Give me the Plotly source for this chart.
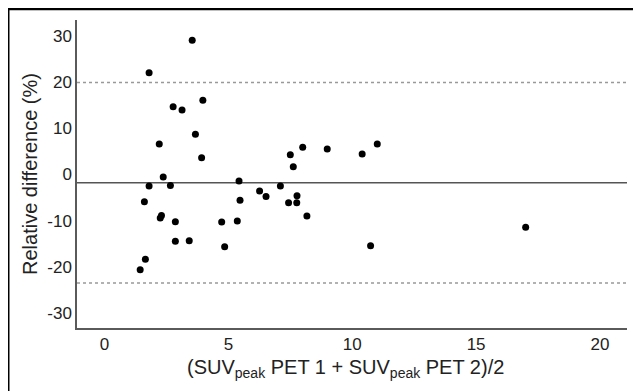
import plotly.graph_objects as go

# Bland-Altman data: mean SUVpeak (x) vs relative difference % (y)
mean_suv = [1.80, 3.54, 2.77, 3.13, 3.97, 2.21, 3.67, 3.92, 2.37, 1.80,
            2.66, 5.43, 6.26, 6.52, 7.10, 7.50, 7.62, 8.00, 7.77, 5.47,
            8.99, 10.40, 11.01, 1.61, 2.25, 2.30, 2.86, 2.86, 3.42, 1.65,
            1.44, 4.73, 5.36, 4.85, 7.43, 7.76, 8.17, 10.74, 17.00]
rel_diff = [22.05, 29.07, 14.66, 13.97, 16.09, 6.61, 8.71, 3.62, -0.54, -2.49,
            -2.38, -1.41, -3.57, -4.76, -2.49, 4.27, 1.69, 5.89, -4.59, -5.59,
            5.52, 4.44, 6.61, -5.91, -9.42, -8.88, -10.24, -14.45, -14.36, -18.37,
            -20.64, -10.29, -10.07, -15.64, -6.13, -6.11, -8.99, -15.42, -11.44]

bias = -1.8
upper_loa = 19.9
lower_loa = -23.5

x_ticks = [0, 5, 10, 15, 20]
x_tick_labels = ["0", "5", "10", "15", "20"]
y_ticks = [-30, -20, -10, 0, 10, 20, 30]
y_tick_labels = ["-30", "-20", "-10", "0", "10", "20", "30"]
x_title = "(SUV<sub>peak</sub> PET 1 + SUV<sub>peak</sub> PET 2)/2"
y_title = "Relative difference (%)"

font_family = "Liberation Sans, Arial, sans-serif"

fig = go.Figure()
fig.add_trace(go.Scatter(
    x=mean_suv, y=rel_diff, mode="markers",
    marker=dict(color="black", size=7),
    showlegend=False, hoverinfo="x+y"))

# bias and limits of agreement
fig.add_shape(type="line", xref="paper", x0=0, x1=1, yref="y", y0=bias, y1=bias,
              line=dict(color="#555555", width=1.5), layer="below")
for v in (upper_loa, lower_loa):
    fig.add_shape(type="line", xref="paper", x0=0, x1=1, yref="y", y0=v, y1=v,
                  line=dict(color="#999999", width=1.5, dash="dot"), layer="below")

# outer frame (top and left edges visible)
fig.add_shape(type="line", xref="paper", yref="paper",
              x0=-0.126, x1=1.2, y0=1.0355, y1=1.0355,
              line=dict(color="black", width=2.5))
fig.add_shape(type="line", xref="paper", yref="paper",
              x0=-0.1241, x1=-0.1241, y0=-0.3, y1=1.04,
              line=dict(color="black", width=1.5))

# x-axis title as annotation (slightly left of plot centre, as in reference)
fig.add_annotation(text=x_title, xref="paper", yref="paper",
                   x=0.489, y=0, xanchor="center", yanchor="middle",
                   yshift=-40, showarrow=False,
                   font=dict(size=20, color="#222222", family=font_family))

fig.update_layout(
    width=633, height=383,
    margin=dict(l=69, r=14, t=12, b=63),
    paper_bgcolor="white", plot_bgcolor="white",
    font=dict(family=font_family, color="#222222", size=17),
    xaxis=dict(range=[-1.11, 21.09], tickvals=x_ticks, ticktext=x_tick_labels,
               showgrid=False, zeroline=False, automargin=False,
               showline=True, linecolor="#5a5a5a", linewidth=1.5,
               ticks="", ticklen=0, ticklabelstandoff=0,
               tickfont=dict(size=17)),
    yaxis=dict(range=[-33.25, 33.46], tickvals=y_ticks, ticktext=y_tick_labels,
               showgrid=False, zeroline=False, automargin=False,
               showline=True, linecolor="#5a5a5a", linewidth=1.5,
               ticks="", ticklen=0, ticklabelstandoff=0,
               tickfont=dict(size=17),
               title=dict(text=y_title, font=dict(size=20), standoff=4)),
)

fig.write_html("out.html")
